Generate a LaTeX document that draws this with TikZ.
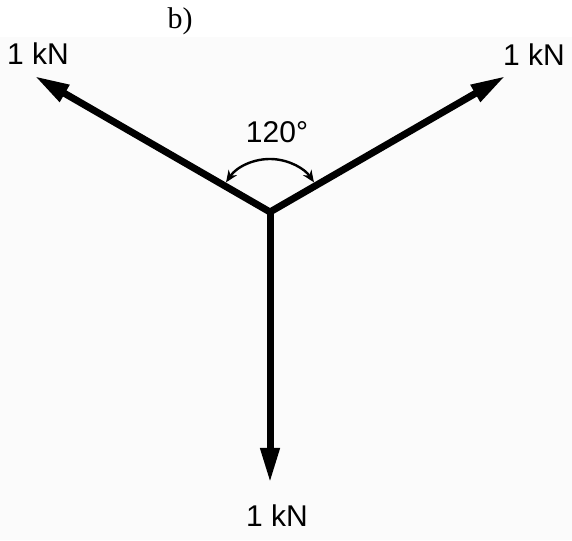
\documentclass[tikz,border=0pt]{standalone}
\usepackage{fontspec}
\setmainfont{Liberation Sans}
\newfontfamily\serifface{Liberation Serif}
\usetikzlibrary{arrows.meta,calc}
\tikzset{
  force/.style={line width=7pt,-{Triangle[length=35pt,width=18pt]}},
  anglearc/.style={line width=2.4pt,{Stealth[length=12pt,width=10pt]}-{Stealth[length=12pt,width=10pt]}},
  lbl/.style={inner sep=0pt,font=\fontsize{30}{32}\selectfont}
}
\begin{document}
\begin{tikzpicture}[x=1pt,y=1pt]
\useasboundingbox (0,0) rectangle (572,540);
\fill[white] (0,0) rectangle (572,540);
\fill[black!1.5] (0,0) rectangle (572,503);
\coordinate (O) at (270,328);
\coordinate (L) at ($(O)+(150:272)$);
\coordinate (R) at ($(O)+(30:272)$);
\coordinate (D) at ($(O)+(270:271)$);
\draw[force] (O) -- (L);
\draw[force] (O) -- (R);
\draw[force] (O) -- (D);
\coordinate (A1) at ($(O)+(146:53)$);
\draw[anglearc] (A1) arc[start angle=146,end angle=34,radius=53];
\node[lbl] (tl) at (38,486) {1 kN};
\node[lbl] (tr) at (534,485) {1 kN};
\node[lbl] (bt) at (277,24) {1 kN};
\node[lbl] (ang) at (277,408) {120°};
\node[inner sep=0pt,font=\serifface\fontsize{30}{32}\selectfont] (b) at (180,519) {b)};
\end{tikzpicture}
\end{document}
